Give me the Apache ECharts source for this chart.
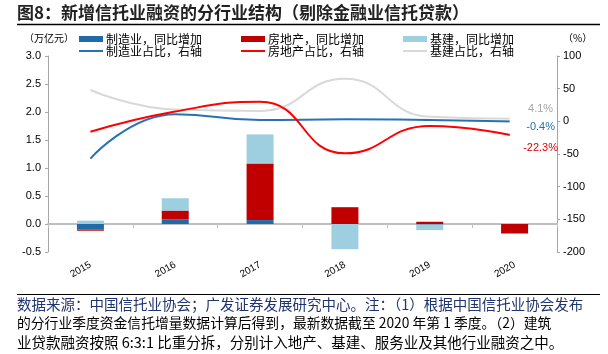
<!DOCTYPE html>
<html>
<head>
<meta charset="utf-8">
<script src="https://cdn.jsdelivr.net/npm/echarts@6/dist/echarts.min.js"></script>
<style>
  html, body { margin: 0; padding: 0; background: #fff; }
  #chart { width: 608px; height: 354px; }
</style>
</head>
<body>
<div id="chart"></div>
<script>
// 年份
var years = ['2015', '2016', '2017', '2018', '2019', '2020'];

// 同比增加（万亿元，左轴）
var mfgInc = [-0.10, 0.08, 0.07, 0.00, -0.01, 0.00];
var reInc = [-0.02, 0.16, 1.01, 0.30, 0.04, -0.17];
var infraInc = [0.06, 0.22, 0.52, -0.45, -0.10, 0.015];

// 占比（%，右轴）
var mfgShare = [-57, 11, 2, 3, 2, -0.4];
var reShare = [-16, 15, 30, -49, -7, -22.3];
var infraShare = [48, 18, 16, 65, 7, 4.1];

// 坐标轴刻度
var leftTicks = { min: -0.5, max: 3.0, interval: 0.5 };
var rightTicks = { min: -200, max: 100, interval: 50 };

var cjk = '"Noto Sans CJK SC", sans-serif';
var num = '"Liberation Sans", Arial, sans-serif';

var C_BLUE = '#1f6aa8';
var C_RED = '#c00000';
var C_LIGHT = '#9dcfe0';
var L_BLUE = '#2672b4';
var L_RED = '#ff0000';
var L_GREY = '#d9d9d9';

// 最后一个点加空心圆和标签
function withEnd(arr, color, offsetY) {
    return arr.map(function(v, i) {
        if (i < arr.length - 1) return v;
        return {
            value: v,
            symbol: 'emptyCircle',
            symbolSize: 8,
            itemStyle: { color: '#fff', borderColor: color, borderWidth: 1.5 },
            label: {
                show: true,
                position: 'inside',
                offset: [26, offsetY],
                formatter: v + '%',
                fontFamily: num,
                fontSize: 11,
                color: color
            }
        };
    });
}

function legendItem(name, left, top, h) {
    return {
        data: [{ name: name, icon: 'rect' }],
        left: left,
        top: top,
        padding: 0,
        itemWidth: 24,
        itemHeight: h,
        itemGap: 0,
        textStyle: { fontFamily: cjk, fontSize: 12, color: '#000', padding: [0, 0, 0, -2] },
        selectedMode: false
    };
}

var myChart = echarts.init(document.getElementById('chart'));

var option = {
    animation: false,
    grid: { left: 48, right: 51, top: 56, bottom: 102 },
    legend: [
        legendItem('制造业，同比增加', 79, 33, 6),
        legendItem('房地产，同比增加', 241, 33, 6),
        legendItem('基建，同比增加', 403, 33, 6),
        legendItem('制造业占比，右轴', 79, 45, 2),
        legendItem('房地产占比，右轴', 241, 45, 2),
        legendItem('基建占比，右轴', 403, 45, 2)
    ],
    xAxis: [
        {
            type: 'category',
            data: years,
            position: 'bottom',
            axisLine: { show: false, onZero: false },
            axisTick: { show: false },
            axisLabel: { rotate: 30, margin: 12, fontFamily: num, fontSize: 10, color: '#000' }
        },
        {
            type: 'category',
            data: years,
            position: 'bottom',
            axisLine: { onZero: true, onZeroAxisIndex: 0, lineStyle: { color: '#bfbfbf', width: 2 } },
            axisTick: { show: true, length: 4, lineStyle: { color: '#bfbfbf' } },
            axisLabel: { show: false }
        }
    ],
    yAxis: [
        {
            type: 'value',
            min: leftTicks.min,
            max: leftTicks.max,
            interval: leftTicks.interval,
            axisLine: { show: true, lineStyle: { color: '#a6a6a6' } },
            axisTick: { show: true, length: 3, lineStyle: { color: '#a6a6a6' } },
            axisLabel: {
                margin: 7,
                fontFamily: num, fontSize: 11, color: '#000',
                formatter: function(v) { return v.toFixed(1); }
            },
            splitLine: { show: false }
        },
        {
            type: 'value',
            position: 'right',
            min: rightTicks.min,
            max: rightTicks.max,
            interval: rightTicks.interval,
            axisLine: { show: true, lineStyle: { color: '#a6a6a6' } },
            axisTick: { show: true, length: 3, lineStyle: { color: '#a6a6a6' } },
            axisLabel: { margin: 6, fontFamily: num, fontSize: 11, color: '#000' },
            splitLine: { show: false }
        }
    ],
    series: [
        { name: '制造业，同比增加', type: 'bar', stack: 'inc', barWidth: 27, data: mfgInc, itemStyle: { color: C_BLUE } },
        { name: '房地产，同比增加', type: 'bar', stack: 'inc', barWidth: 27, data: reInc, itemStyle: { color: C_RED } },
        { name: '基建，同比增加', type: 'bar', stack: 'inc', barWidth: 27, data: infraInc, itemStyle: { color: C_LIGHT } },
        {
            name: '制造业占比，右轴', type: 'line', yAxisIndex: 1, smooth: 0.5, symbol: 'none', z: 5,
            lineStyle: { color: L_BLUE, width: 2 }, itemStyle: { color: L_BLUE },
            data: withEnd(mfgShare, L_BLUE, 5)
        },
        {
            name: '房地产占比，右轴', type: 'line', yAxisIndex: 1, smooth: 0.5, symbol: 'none', z: 5,
            lineStyle: { color: L_RED, width: 2 }, itemStyle: { color: L_RED },
            data: withEnd(reShare, '#e00000', 12)
        },
        {
            name: '基建占比，右轴', type: 'line', yAxisIndex: 1, smooth: 0.5, symbol: 'none', z: 4,
            lineStyle: { color: L_GREY, width: 2 }, itemStyle: { color: L_GREY },
            data: withEnd(infraShare, '#a6a6a6', -10)
        }
    ],
    graphic: [
        {
            type: 'text', left: 17, top: 4,
            style: { text: '图8：新增信托业融资的分行业结构（剔除金融业信托贷款）', font: 'bold 17px ' + cjk, fill: '#222' }
        },
        { type: 'line', shape: { x1: 17, y1: 24.5, x2: 600, y2: 24.5 }, style: { stroke: '#000', lineWidth: 1.5 } },
        { type: 'text', left: 24, top: 33, style: { text: '（万亿元）', font: '10px ' + cjk, fill: '#000' } },
        { type: 'text', left: 563, top: 33, style: { text: '（%）', font: '10px ' + cjk, fill: '#000' } },
        { type: 'line', shape: { x1: 17, y1: 294.5, x2: 600, y2: 294.5 }, style: { stroke: '#000', lineWidth: 1 } },
        {
            type: 'text', left: 17, top: 297,
            style: { text: '数据来源：中国信托业协会；广发证券发展研究中心。注：（1）根据中国信托业协会发布', font: '14.5px ' + cjk, fill: '#1f3470' }
        },
        {
            type: 'text', left: 17, top: 316,
            style: { text: '的分行业季度资金信托增量数据计算后得到，最新数据截至 2020 年第 1 季度。（2）建筑', font: '13.8px ' + cjk, fill: '#000' }
        },
        {
            type: 'text', left: 17, top: 335,
            style: { text: '业贷款融资按照 6:3:1 比重分拆，分别计入地产、基建、服务业及其他行业融资之中。', font: '14.5px ' + cjk, fill: '#000' }
        }
    ]
};

myChart.setOption(option);
</script>
</body>
</html>
